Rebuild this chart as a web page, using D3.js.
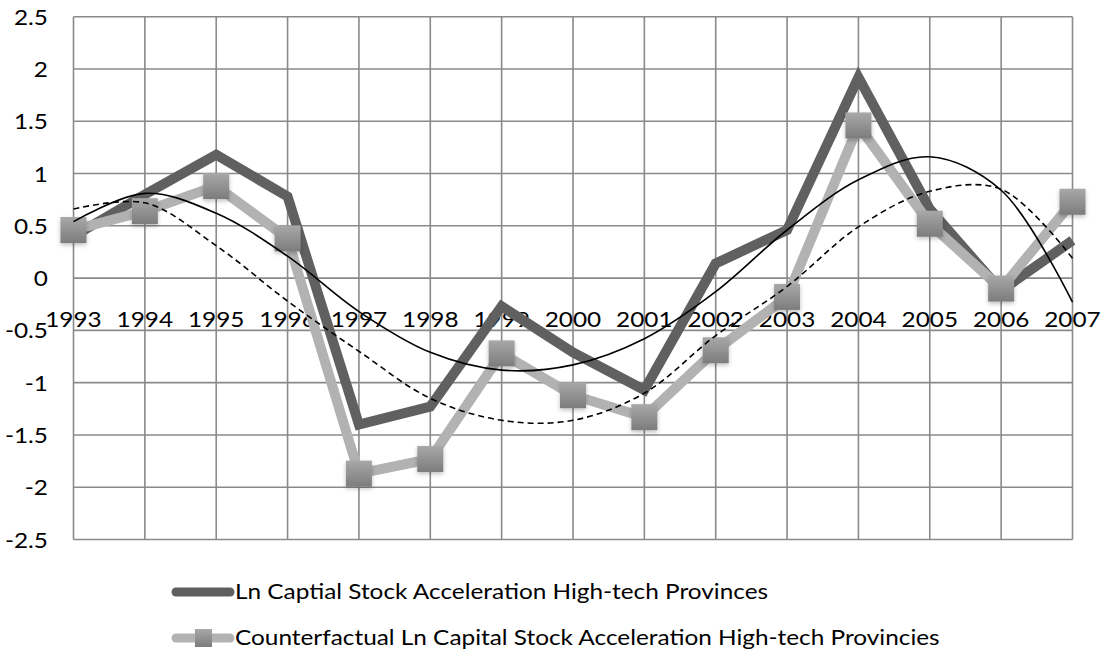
<!DOCTYPE html>
<html>
<head>
<meta charset="utf-8">
<script src="https://cdn.jsdelivr.net/npm/d3@7"></script>
<style>
	body { margin: 0; background: #fff; }
	text { font-family: Lato, "Open Sans", sans-serif; fill: #000; }
</style>
</head>
<body>
<svg id="chart" width="1106" height="660"></svg>
<script>
// Data
const years = ["1993", "1994", "1995", "1996", "1997", "1998", "1999", "2000",
	"2001", "2002", "2003", "2004", "2005", "2006", "2007"];

const lnCapital = [0.4, 0.8, 1.18, 0.78, -1.4, -1.23, -0.27, -0.71, -1.07,
	0.14, 0.46, 1.92, 0.66, -0.12, 0.36];

const counterfactual = [0.46, 0.64, 0.88, 0.38, -1.87, -1.73, -0.72, -1.12,
	-1.33, -0.69, -0.18, 1.46, 0.52, -0.1, 0.73];

// polynomial trend lines, read at each year
const trendLnCapital = [0.54, 0.81, 0.62, 0.21, -0.32, -0.71, -0.88, -0.83,
	-0.58, -0.13, 0.46, 0.94, 1.16, 0.84, -0.23];

const trendCounterfactual = [0.66, 0.72, 0.31, -0.22, -0.7, -1.15, -1.36,
	-1.36, -1.1, -0.55, -0.08, 0.49, 0.83, 0.85, 0.19];

const yTicks = [2.5, 2, 1.5, 1, 0.5, 0, -0.5, -1, -1.5, -2, -2.5];

const legendLabels = [
	"Ln Captial Stock Acceleration High-tech Provinces",
	"Counterfactual Ln Capital Stock Acceleration High-tech Provincies",
];

function whenDocumentLoaded(action) {
	if (document.readyState === "loading") {
		document.addEventListener("DOMContentLoaded", action);
	} else {
		action();
	}
}

// the reference text is a bit stretched sideways
const stretch = 1.16;

function drawChart() {
	const svg = d3.select("#chart");

	const left = 73.5;
	const right = 1072.5;
	const top = 16.7;
	const bottom = 539.5;

	const x = d3.scalePoint().domain(years).range([left, right]);
	const y = d3.scaleLinear().domain([-2.5, 2.5]).range([bottom, top]);

	// marker gradient + shadow
	const defs = svg.append("defs");
	const grad = defs.append("linearGradient")
		.attr("id", "markerGrad")
		.attr("x1", 0).attr("y1", 0).attr("x2", 0).attr("y2", 1);
	grad.append("stop").attr("offset", "0%").attr("stop-color", "#a8a8a8");
	grad.append("stop").attr("offset", "100%").attr("stop-color", "#7c7c7c");

	const shadow = defs.append("filter")
		.attr("id", "shadow")
		.attr("x", "-50%").attr("y", "-50%")
		.attr("width", "200%").attr("height", "200%");
	shadow.append("feDropShadow")
		.attr("dx", 0).attr("dy", 2)
		.attr("stdDeviation", 2)
		.attr("flood-color", "#000")
		.attr("flood-opacity", 0.25);

	// grid
	const grid = svg.append("g")
		.attr("stroke", "#8a8a8a")
		.attr("stroke-width", 1.6);

	grid.selectAll("line.h")
		.data(yTicks)
		.join("line")
		.attr("class", "h")
		.attr("x1", left)
		.attr("x2", right)
		.attr("y1", (d) => y(d))
		.attr("y2", (d) => y(d));

	grid.selectAll("line.v")
		.data(years)
		.join("line")
		.attr("class", "v")
		.attr("x1", (d) => x(d))
		.attr("x2", (d) => x(d))
		.attr("y1", top)
		.attr("y2", bottom);

	// y labels
	svg.append("g")
		.attr("text-anchor", "end")
		.style("font-size", "21px")
		.selectAll("text")
		.data(yTicks)
		.join("text")
		.attr("transform", (d) => `translate(48,${y(d) + 8}) scale(${stretch},1)`)
		.text((d) => d);

	// x labels, sitting just above the -0.5 line
	svg.append("g")
		.attr("text-anchor", "middle")
		.style("font-size", "21px")
		.selectAll("text")
		.data(years)
		.join("text")
		.attr("transform", (d) => `translate(${x(d)},${y(-0.5) - 3}) scale(${stretch},1)`)
		.text((d) => d);

	const line = d3.line()
		.x((d, i) => x(years[i]))
		.y((d) => y(d));

	const trend = d3.line()
		.x((d, i) => x(years[i]))
		.y((d) => y(d))
		.curve(d3.curveCatmullRom.alpha(0.5));

	// series
	svg.append("path")
		.datum(lnCapital)
		.attr("fill", "none")
		.attr("stroke", "#606060")
		.attr("stroke-width", 10)
		.attr("stroke-linejoin", "miter")
		.attr("d", line);

	svg.append("path")
		.datum(counterfactual)
		.attr("fill", "none")
		.attr("stroke", "#b2b2b2")
		.attr("stroke-width", 10)
		.attr("stroke-linejoin", "round")
		.attr("d", line);

	svg.append("g")
		.selectAll("rect")
		.data(counterfactual)
		.join("rect")
		.attr("x", (d, i) => x(years[i]) - 13)
		.attr("y", (d) => y(d) - 13)
		.attr("width", 26)
		.attr("height", 26)
		.attr("fill", "url(#markerGrad)")
		.attr("filter", "url(#shadow)");

	// trend lines
	svg.append("path")
		.datum(trendLnCapital)
		.attr("fill", "none")
		.attr("stroke", "#000")
		.attr("stroke-width", 1.6)
		.attr("d", trend);

	svg.append("path")
		.datum(trendCounterfactual)
		.attr("fill", "none")
		.attr("stroke", "#000")
		.attr("stroke-width", 1.6)
		.attr("stroke-dasharray", "6,4")
		.attr("d", trend);

	// legend
	const legend = svg.append("g");
	const rows = legend.selectAll("g")
		.data(legendLabels)
		.join("g")
		.attr("transform", (d, i) => `translate(0,${592 + i * 46})`);

	rows.append("line")
		.attr("x1", 176)
		.attr("x2", 230)
		.attr("stroke", (d, i) => (i === 0 ? "#606060" : "#b2b2b2"))
		.attr("stroke-width", 9)
		.attr("stroke-linecap", "round");

	rows.filter((d, i) => i === 1)
		.append("rect")
		.attr("x", 195)
		.attr("y", -9)
		.attr("width", 17)
		.attr("height", 18)
		.attr("fill", "url(#markerGrad)");

	rows.append("text")
		.attr("transform", `translate(235,7) scale(${stretch},1)`)
		.style("font-size", "21px")
		.text((d) => d);
}

whenDocumentLoaded(drawChart);
</script>
</body>
</html>
